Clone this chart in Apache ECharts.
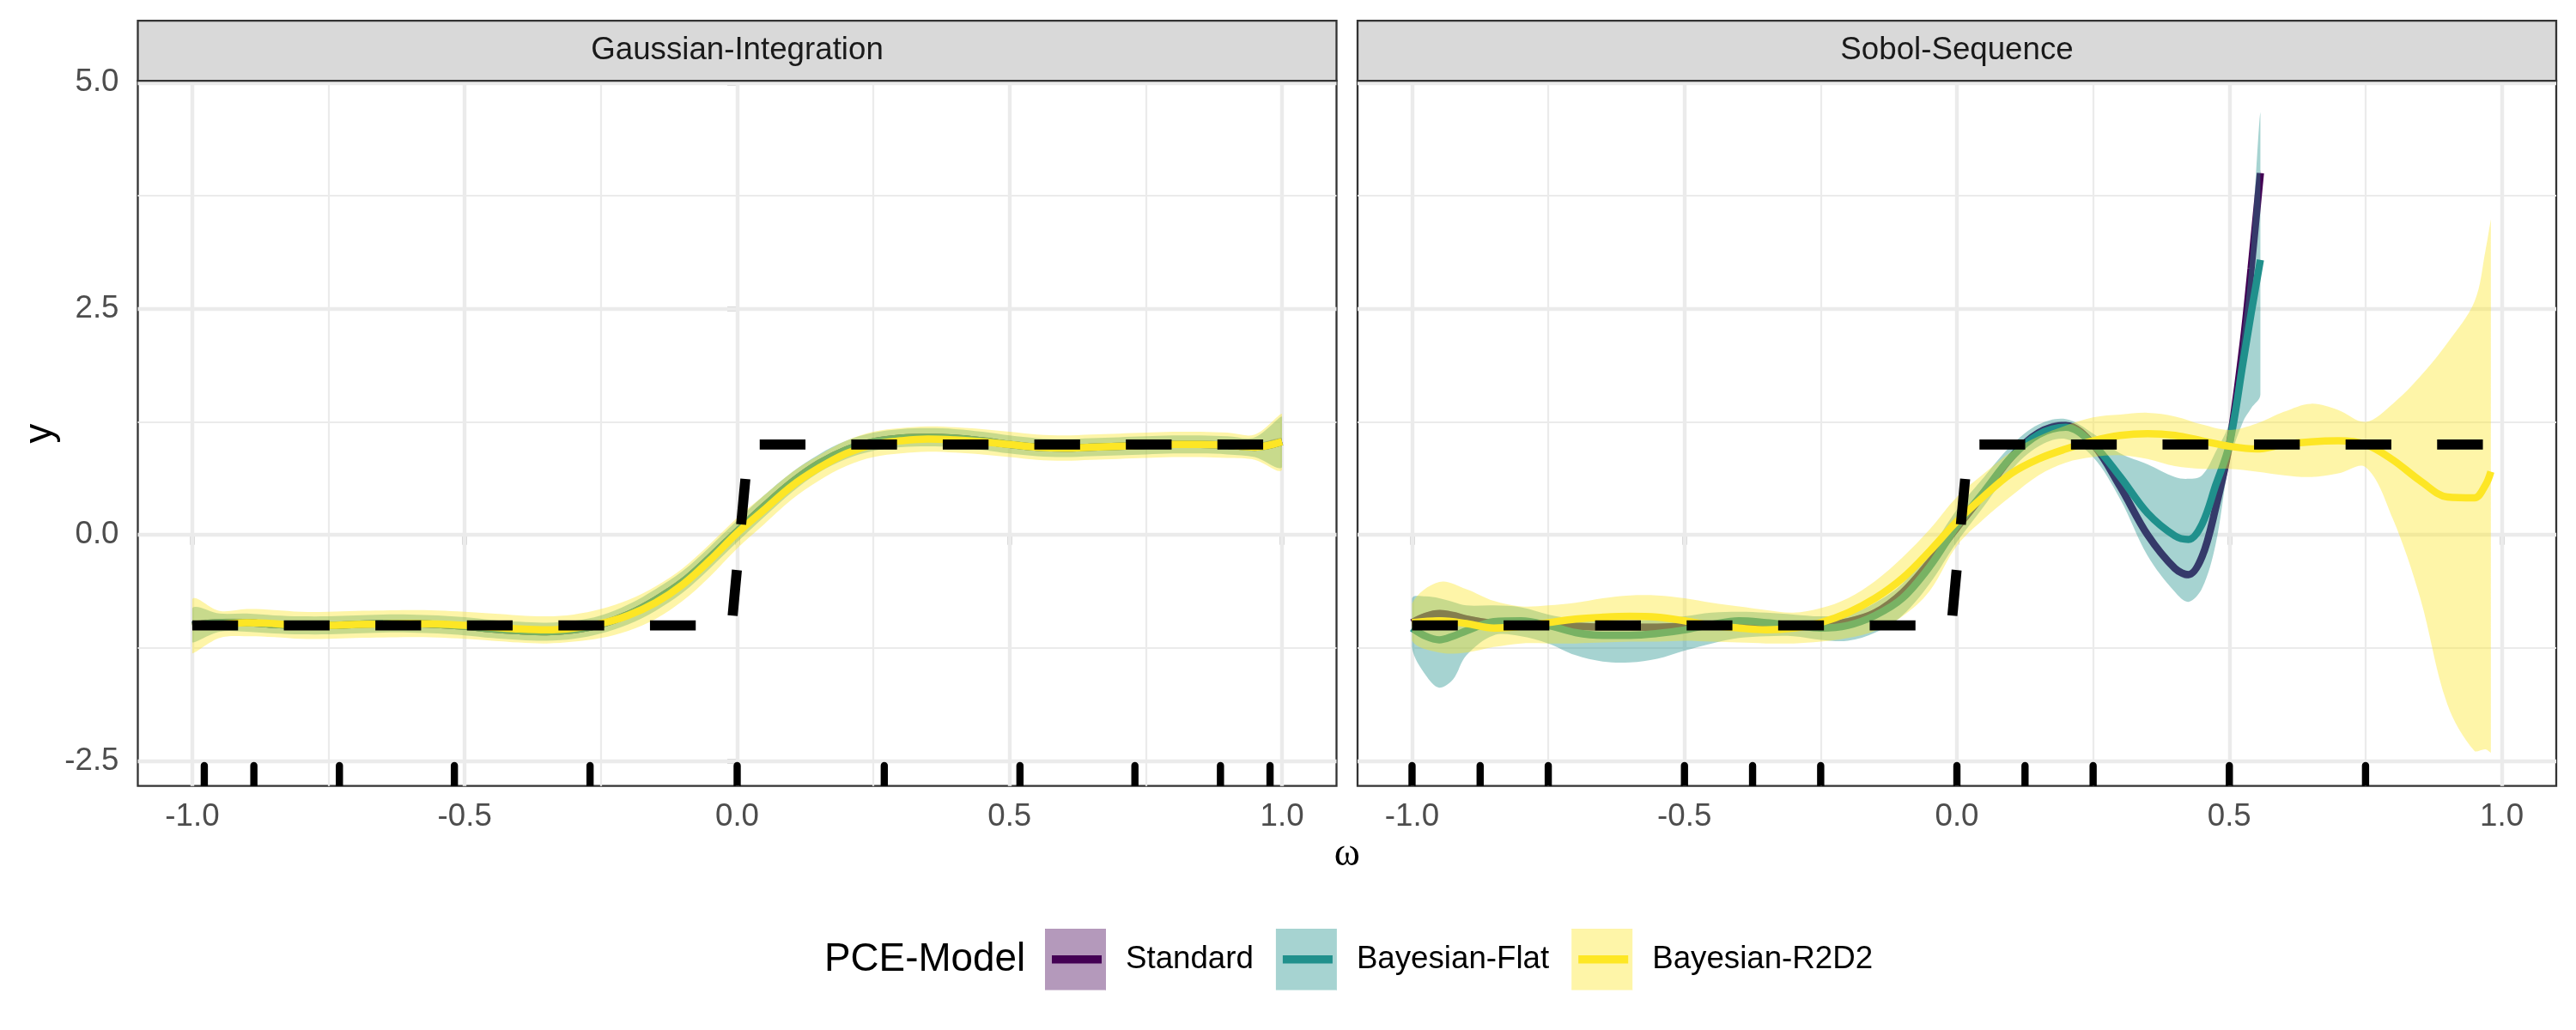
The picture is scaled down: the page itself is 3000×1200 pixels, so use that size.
<!DOCTYPE html>
<html>
<head>
<meta charset="utf-8">
<script src="https://cdn.jsdelivr.net/npm/echarts@6/dist/echarts.min.js"></script>
<style>
html,body{margin:0;padding:0;background:#ffffff;}
#chart{width:3000px;height:1200px;}
</style>
</head>
<body>
<div id="chart"></div>
<script>
// ---------- categories / ticks ----------
const panels = ['Gaussian-Integration', 'Sobol-Sequence'];
const models = ['Standard', 'Bayesian-Flat', 'Bayesian-R2D2'];
const xTickValues = [-1.0, -0.5, 0.0, 0.5, 1.0];
const yTickValues = [-2.5, 0.0, 2.5, 5.0];
const xMinorGrid = [-0.75, -0.25, 0.25, 0.75];
const yMinorGrid = [-1.25, 1.25, 3.75];

// ---------- true function (dashed) ----------
const truthX = [-1, -0.01, 0.021, 1];
const truthY = [-1, -1, 1, 1];

// ---------- Gaussian-Integration panel ----------
const gX = [-1,-0.95,-0.9,-0.85,-0.8,-0.75,-0.7,-0.65,-0.6,-0.55,-0.5,-0.45,-0.4,-0.35,-0.3,-0.25,-0.2,-0.15,-0.1,-0.05,0,0.05,0.1,0.15,0.2,0.25,0.3,0.35,0.4,0.45,0.5,0.55,0.6,0.65,0.7,0.75,0.8,0.85,0.9,0.95,1];
const gStdMean = [-1.0,-0.97,-0.97,-0.99,-1.0,-1.0,-0.99,-0.98,-0.98,-0.99,-1.01,-1.04,-1.06,-1.07,-1.05,-0.99,-0.88,-0.72,-0.52,-0.25,0.04,0.32,0.58,0.79,0.94,1.03,1.07,1.08,1.07,1.04,1.0,0.97,0.96,0.97,0.98,0.99,1.0,1.0,0.99,0.97,1.03];
const gStdLo = [-1.04,-1.01,-1.01,-1.03,-1.04,-1.04,-1.03,-1.02,-1.02,-1.03,-1.05,-1.08,-1.1,-1.11,-1.09,-1.03,-0.92,-0.76,-0.56,-0.29,0.0,0.28,0.54,0.75,0.9,0.99,1.03,1.04,1.03,1.0,0.96,0.93,0.92,0.93,0.94,0.95,0.96,0.96,0.95,0.93,0.99];
const gStdHi = [-0.96,-0.93,-0.93,-0.95,-0.96,-0.96,-0.95,-0.94,-0.94,-0.95,-0.97,-1.0,-1.02,-1.03,-1.01,-0.95,-0.84,-0.68,-0.48,-0.21,0.08,0.36,0.62,0.83,0.98,1.07,1.11,1.12,1.11,1.08,1.04,1.01,1.0,1.01,1.02,1.03,1.04,1.04,1.03,1.01,1.07];
const gFlatMean = [-1.0,-0.97,-0.97,-0.99,-1.0,-1.0,-0.99,-0.98,-0.98,-0.99,-1.01,-1.04,-1.06,-1.07,-1.05,-0.99,-0.88,-0.72,-0.52,-0.25,0.04,0.32,0.58,0.79,0.94,1.03,1.07,1.08,1.07,1.04,1.0,0.97,0.96,0.97,0.98,0.99,1.0,1.0,0.99,0.97,1.03];
const gFlatLo = [-1.19,-1.07,-1.07,-1.09,-1.1,-1.1,-1.09,-1.08,-1.08,-1.09,-1.11,-1.14,-1.16,-1.17,-1.15,-1.09,-0.99,-0.84,-0.64,-0.37,-0.08,0.2,0.47,0.69,0.84,0.93,0.97,0.98,0.97,0.94,0.9,0.87,0.86,0.87,0.88,0.89,0.9,0.9,0.89,0.86,0.75];
const gFlatHi = [-0.81,-0.87,-0.87,-0.89,-0.9,-0.9,-0.89,-0.88,-0.88,-0.89,-0.91,-0.94,-0.96,-0.97,-0.95,-0.89,-0.77,-0.6,-0.4,-0.13,0.16,0.44,0.69,0.89,1.04,1.13,1.17,1.18,1.17,1.14,1.1,1.07,1.06,1.07,1.08,1.09,1.1,1.1,1.09,1.08,1.31];
const gR2Mean = [-1.01,-0.99,-0.97,-0.98,-1.0,-1.0,-0.99,-0.985,-0.98,-0.985,-1.0,-1.02,-1.04,-1.05,-1.03,-0.98,-0.89,-0.75,-0.55,-0.28,0.02,0.28,0.54,0.74,0.9,1.0,1.04,1.06,1.05,1.03,1.0,0.97,0.96,0.97,0.98,0.99,1.0,1.0,0.99,0.97,1.03];
const gR2Lo = [-1.31,-1.14,-1.12,-1.13,-1.15,-1.15,-1.14,-1.135,-1.13,-1.135,-1.15,-1.17,-1.19,-1.2,-1.18,-1.14,-1.06,-0.93,-0.73,-0.46,-0.15,0.12,0.39,0.6,0.76,0.86,0.9,0.92,0.91,0.89,0.86,0.83,0.82,0.83,0.84,0.85,0.86,0.86,0.85,0.83,0.72];
const gR2Hi = [-0.71,-0.84,-0.82,-0.83,-0.85,-0.85,-0.84,-0.835,-0.83,-0.835,-0.85,-0.87,-0.89,-0.9,-0.88,-0.82,-0.72,-0.57,-0.37,-0.1,0.19,0.44,0.69,0.88,1.04,1.14,1.18,1.2,1.19,1.17,1.14,1.11,1.1,1.11,1.12,1.13,1.14,1.14,1.13,1.11,1.34];
const gRug = [-0.978,-0.887,-0.730,-0.519,-0.270,0,0.270,0.519,0.730,0.887,0.978];

// ---------- Sobol-Sequence panel ----------
const sX = [-1,-0.975,-0.95,-0.925,-0.9,-0.85,-0.8,-0.75,-0.7,-0.65,-0.6,-0.55,-0.5,-0.45,-0.4,-0.35,-0.3,-0.25,-0.2,-0.15,-0.1,-0.05,0,0.05,0.1,0.15,0.2,0.25,0.3,0.35,0.4,0.425,0.45,0.475,0.5,0.525,0.54,0.557];
const sStdMean = [-0.97,-0.9,-0.87,-0.89,-0.93,-0.98,-1.0,-1.0,-1.01,-1.02,-1.02,-1.02,-1.01,-1.0,-0.99,-0.99,-1.0,-1.0,-0.96,-0.86,-0.64,-0.3,0.08,0.46,0.86,1.13,1.21,1.0,0.53,0.0,-0.37,-0.44,-0.24,0.3,1.0,2.1,2.95,4.0];
const sStdLo = [-1.01,-0.94,-0.91,-0.93,-0.97,-1.02,-1.04,-1.04,-1.05,-1.06,-1.06,-1.06,-1.05,-1.04,-1.03,-1.03,-1.04,-1.04,-1.0,-0.9,-0.68,-0.34,0.04,0.42,0.82,1.09,1.17,0.96,0.49,-0.04,-0.41,-0.48,-0.28,0.26,0.96,2.06,2.91,3.96];
const sStdHi = [-0.93,-0.86,-0.83,-0.85,-0.89,-0.94,-0.96,-0.96,-0.97,-0.98,-0.98,-0.98,-0.97,-0.96,-0.95,-0.95,-0.96,-0.96,-0.92,-0.82,-0.6,-0.26,0.12,0.5,0.9,1.17,1.25,1.04,0.57,0.04,-0.33,-0.4,-0.2,0.34,1.04,2.14,2.99,4.04];
const sFlatMean = [-1.03,-1.12,-1.16,-1.12,-1.06,-0.96,-0.95,-1.0,-1.08,-1.11,-1.11,-1.09,-1.05,-0.99,-0.95,-0.97,-1.0,-1.03,-1.0,-0.89,-0.7,-0.35,0.1,0.48,0.86,1.11,1.19,1.0,0.64,0.24,-0.01,-0.05,0.12,0.55,1.0,1.9,2.45,3.04];
const sFlatLo = [-1.25,-1.55,-1.69,-1.6,-1.33,-1.11,-1.12,-1.2,-1.33,-1.4,-1.41,-1.37,-1.28,-1.2,-1.14,-1.12,-1.12,-1.16,-1.17,-1.08,-0.89,-0.54,-0.08,0.32,0.72,0.98,1.06,0.86,0.39,-0.23,-0.63,-0.74,-0.59,-0.1,0.8,1.25,1.4,1.55];
const sFlatHi = [-0.7,-0.68,-0.7,-0.74,-0.78,-0.78,-0.8,-0.88,-0.93,-0.95,-0.95,-0.93,-0.9,-0.86,-0.85,-0.86,-0.88,-0.9,-0.88,-0.75,-0.54,-0.17,0.28,0.64,0.99,1.22,1.28,1.12,0.9,0.78,0.64,0.62,0.66,0.92,1.25,2.3,3.2,4.67];
const sRX = [-1,-0.95,-0.9,-0.85,-0.8,-0.75,-0.7,-0.65,-0.6,-0.55,-0.5,-0.45,-0.4,-0.35,-0.3,-0.25,-0.2,-0.15,-0.1,-0.05,0,0.05,0.1,0.15,0.2,0.25,0.3,0.35,0.4,0.45,0.5,0.55,0.6,0.65,0.7,0.75,0.8,0.85,0.9,0.95,0.97,0.98];
const sR2Mean = [-0.97,-0.95,-0.98,-1.03,-1.01,-0.97,-0.93,-0.91,-0.9,-0.91,-0.95,-1.0,-1.03,-1.05,-1.03,-0.97,-0.86,-0.7,-0.48,-0.18,0.15,0.43,0.68,0.84,0.95,1.04,1.1,1.12,1.1,1.04,0.98,0.95,1.0,1.03,1.04,1.0,0.83,0.6,0.42,0.41,0.55,0.7];
const sR2Lo = [-1.17,-1.3,-1.3,-1.24,-1.2,-1.2,-1.2,-1.19,-1.18,-1.18,-1.17,-1.18,-1.19,-1.2,-1.2,-1.18,-1.14,-1.06,-0.9,-0.62,-0.12,0.18,0.43,0.66,0.8,0.86,0.88,0.84,0.76,0.73,0.73,0.7,0.66,0.64,0.68,0.75,0.18,-0.69,-1.87,-2.39,-2.37,-2.41];
const sR2Hi = [-0.76,-0.52,-0.6,-0.73,-0.79,-0.78,-0.75,-0.7,-0.67,-0.67,-0.7,-0.75,-0.79,-0.83,-0.86,-0.81,-0.7,-0.51,-0.25,0.06,0.42,0.68,0.92,1.09,1.21,1.3,1.33,1.35,1.31,1.22,1.16,1.23,1.36,1.45,1.38,1.25,1.45,1.75,2.12,2.58,3.14,3.49];
const sRug = [-1,-0.875,-0.75,-0.5,-0.375,-0.25,0,0.125,0.25,0.5,0.75];

// ---------- styling ----------
const FONT = '"Liberation Sans", Arial, Helvetica, sans-serif';
const lineColor = {'Standard':'#440154','Bayesian-Flat':'#21908C','Bayesian-R2D2':'#FDE725'};
const fillColor = {'Standard':'rgba(68,1,84,0.4)','Bayesian-Flat':'rgba(33,144,140,0.4)','Bayesian-R2D2':'rgba(253,231,37,0.4)'};
const X_MIN = -1.1, X_MAX = 1.1, Y_MIN = -2.776, Y_MAX = 5.02;
const GRID_TOP = 94.2, GRID_H = 821.5, GRID_W = 1396;
const GRID_LEFT = [160.5, 1581];

const panelData = [
  {x:[gX,gX,gX], mean:[gStdMean,gFlatMean,gR2Mean], lo:[gStdLo,gFlatLo,gR2Lo], hi:[gStdHi,gFlatHi,gR2Hi], rug:gRug},
  {x:[sX,sX,sRX], mean:[sStdMean,sFlatMean,sR2Mean], lo:[sStdLo,sFlatLo,sR2Lo], hi:[sStdHi,sFlatHi,sR2Hi], rug:sRug}
];

function gridLines() {
  const d = [];
  xTickValues.forEach(v => d.push({xAxis: v, lineStyle:{width:4.4, color:'#EBEBEB', type:'solid'}}));
  xMinorGrid.forEach(v => d.push({xAxis: v, lineStyle:{width:2.2, color:'#EBEBEB', type:'solid'}}));
  yTickValues.forEach(v => d.push({yAxis: v, lineStyle:{width:4.4, color:'#EBEBEB', type:'solid'}}));
  yMinorGrid.forEach(v => d.push({yAxis: v, lineStyle:{width:2.2, color:'#EBEBEB', type:'solid'}}));
  return d;
}

function meanSeries(name, xs, ys, gi, z, withGrid) {
  const s = {
    type:'line', name: name, xAxisIndex: gi, yAxisIndex: gi, z: z,
    data: xs.map((x,i) => [x, ys[i]]),
    symbol:'none', showSymbol:false, smooth:0.35, silent:true,
    lineStyle:{color: lineColor[name], width: 8.5, cap:'butt'},
    itemStyle:{color: lineColor[name]}
  };
  if (withGrid) {
    s.markLine = {silent:true, symbol:'none', z:1, animation:false, label:{show:false}, emphasis:{disabled:true}, data: gridLines()};
  }
  return s;
}

function ribbonSeries(name, xs, lo, hi, gi, z) {
  return {
    type:'custom', name: name, xAxisIndex: gi, yAxisIndex: gi, z: z, silent:true,
    data: xs.map((x,i) => [x, lo[i], hi[i]]),
    encode:{x:0, y:[1,2]},
    renderItem: function (params, api) {
      if (params.dataIndex !== 0) return null;
      const pts = [];
      for (let i = 0; i < xs.length; i++) pts.push(api.coord([xs[i], hi[i]]));
      for (let i = xs.length - 1; i >= 0; i--) pts.push(api.coord([xs[i], lo[i]]));
      let mnx = Infinity, mny = Infinity, mxx = -Infinity, mxy = -Infinity;
      pts.forEach(p => { mnx = Math.min(mnx, p[0]); mny = Math.min(mny, p[1]); mxx = Math.max(mxx, p[0]); mxy = Math.max(mxy, p[1]); });
      return {type:'polygon', shape:{points: pts, smooth: 0.35, smoothConstraint: [[mnx, mny], [mxx, mxy]]}, style:{fill: fillColor[name]}};
    }
  };
}

function truthSeries(gi) {
  return {
    type:'line', name:'truth', xAxisIndex: gi, yAxisIndex: gi, z: 8, silent:true,
    data: truthX.map((x,i) => [x, truthY[i]]),
    symbol:'none', showSymbol:false,
    lineStyle:{color:'#000000', width:11.7, type:[53.3,53.3], cap:'butt', join:'miter'}
  };
}

function rugSeries(xs, gi) {
  return {
    type:'custom', name:'rug', xAxisIndex: gi, yAxisIndex: gi, z: 9, silent:true,
    data: xs.map(x => [x, Y_MIN]),
    encode:{x:0, y:1},
    renderItem: function (params, api) {
      const p = api.coord([api.value(0), api.value(1)]);
      return {type:'rect', shape:{x: p[0]-4.2, y: p[1]-28, width: 8.4, height: 28, r:[4.2,4.2,0,0]}, style:{fill:'#000000'}};
    }
  };
}

const series = [];
panelData.forEach((pd, gi) => {
  let z = 2;
  models.forEach((m, mi) => {
    series.push(meanSeries(m, pd.x[mi], pd.mean[mi], gi, z++, mi === 0));
    series.push(ribbonSeries(m, pd.x[mi], pd.lo[mi], pd.hi[mi], gi, z++));
  });
  series.push(truthSeries(gi));
  series.push(rugSeries(pd.rug, gi));
});

const grids = GRID_LEFT.map(l => ({left:l, top:GRID_TOP, width:GRID_W, height:GRID_H, show:true, backgroundColor:'#ffffff', borderColor:'#333333', borderWidth:2.3, containLabel:false}));

const xAxes = [0,1].map(i => ({
  gridIndex:i, type:'value', min:X_MIN, max:X_MAX,
  axisLine:{show:false}, splitLine:{show:false}, minorSplitLine:{show:false},
  axisTick:{show:true, customValues:xTickValues, length:11.5, lineStyle:{color:'#333333', width:4.4}},
  axisLabel:{show:true, customValues:xTickValues, formatter:v => Number(v).toFixed(1), fontSize:36.7, color:'#4D4D4D', fontFamily:FONT, margin:17.5}
}));

const yAxes = [
  {gridIndex:0, type:'value', min:Y_MIN, max:Y_MAX,
   name:'y', nameLocation:'middle', nameGap:90, nameRotate:90,
   nameTextStyle:{fontSize:45.8, color:'#000000', fontFamily:FONT},
   axisLine:{show:false}, splitLine:{show:false},
   axisTick:{show:true, customValues:yTickValues, length:11.5, lineStyle:{color:'#333333', width:4.4}},
   axisLabel:{show:true, customValues:yTickValues, formatter:v => Number(v).toFixed(1), fontSize:36.7, color:'#4D4D4D', fontFamily:FONT, margin:22}},
  {gridIndex:1, type:'value', min:Y_MIN, max:Y_MAX,
   axisLine:{show:false}, splitLine:{show:false}, axisTick:{show:false}, axisLabel:{show:false}}
];

const graphics = [];
panels.forEach((p, i) => {
  graphics.push({type:'rect', z:10, shape:{x:GRID_LEFT[i], y:24.2, width:GRID_W, height:70}, style:{fill:'#D9D9D9', stroke:'#333333', lineWidth:2.3}});
  graphics.push({type:'text', z:11, x:GRID_LEFT[i] + GRID_W/2, y:59.2, style:{text:p, fontSize:36.7, fontFamily:FONT, fill:'#1A1A1A', align:'center', verticalAlign:'middle'}});
});
graphics.push({type:'text', z:11, x:(GRID_LEFT[0] + GRID_LEFT[1] + GRID_W)/2, y:996, style:{text:'ω', fontSize:45.8, fontFamily:'"Liberation Serif", "DejaVu Serif", serif', fill:'#000000', align:'center', verticalAlign:'middle'}});
graphics.push({type:'text', z:11, x:960, y:1118, style:{text:'PCE-Model', fontSize:45.8, fontFamily:FONT, fill:'#000000', align:'left', verticalAlign:'middle'}});

const LINE_ICON = 'path://M0,0L0.3,0L0.3,0.3L0,0.3Z M71,71.6L70.7,71.6L70.7,71.3L71,71.3Z M8,31H66V40.5H8Z';
const legendBase = {orient:'horizontal', left:1217, top:1082, padding:0, itemGap:26, itemWidth:71, itemHeight:71.6, selectedMode:false};
const legends = [
  Object.assign({}, legendBase, {z:4,
    textStyle:{fontSize:36.7, color:'#000000', fontFamily:FONT, padding:[0,0,0,18]},
    data: models.map(m => ({name:m, icon:'rect', itemStyle:{color:fillColor[m], borderWidth:0}}))}),
  Object.assign({}, legendBase, {z:5,
    textStyle:{fontSize:36.7, color:'rgba(0,0,0,0)', fontFamily:FONT, padding:[0,0,0,18]},
    data: models.map(m => ({name:m, icon:LINE_ICON, itemStyle:{color:lineColor[m], borderWidth:0}}))})
];

const chart = echarts.init(document.getElementById('chart'), null, {renderer:'canvas', width:3000, height:1200});
chart.setOption({
  backgroundColor:'#ffffff',
  animation:false,
  textStyle:{fontFamily:FONT},
  grid: grids,
  xAxis: xAxes,
  yAxis: yAxes,
  legend: legends,
  graphic: graphics,
  series: series
});
</script>
</body>
</html>
